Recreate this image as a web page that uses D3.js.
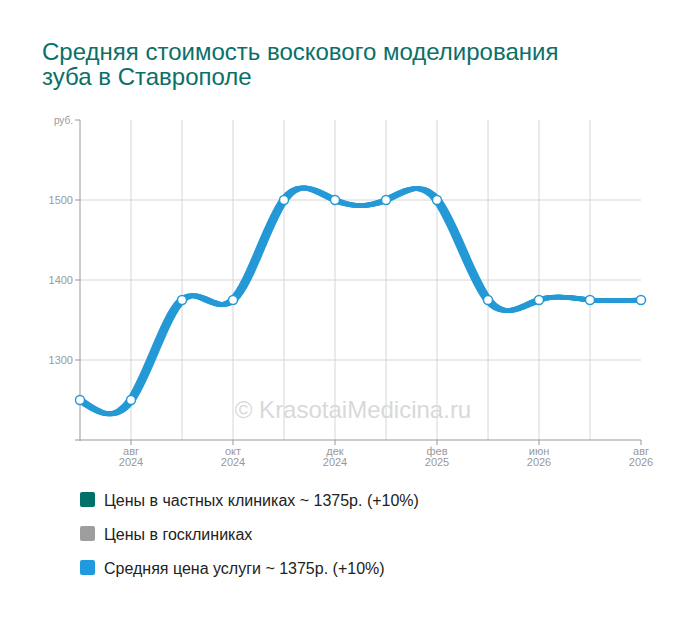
<!DOCTYPE html>
<html>
<head>
<meta charset="utf-8">
<script src="https://cdn.jsdelivr.net/npm/d3@7"></script>
<style>
  body { margin: 0; background: #fff; }
  svg { display: block; font-family: 'Liberation Sans', Arial, sans-serif; }
</style>
</head>
<body>
<svg width="700" height="617"></svg>
<script>
const months = ['июл 2024', 'авг 2024', 'сен 2024', 'окт 2024', 'ноя 2024', 'дек 2024',
  'янв 2025', 'фев 2025', 'май 2026', 'июн 2026', 'июл 2026', 'авг 2026'];
const avgPrice = [1250, 1250, 1375, 1375, 1500, 1500, 1500, 1500, 1375, 1375, 1375, 1375];
const yTicks = [1300, 1400, 1500];
const titleLines = ['Средняя стоимость воскового моделирования', 'зуба в Ставрополе'];
const legendItems = [
  { label: 'Цены в частных клиниках ~ 1375р. (+10%)', color: '#00706a' },
  { label: 'Цены в госклиниках', color: '#9e9e9e' },
  { label: 'Средняя цена услуги ~ 1375р. (+10%)', color: '#1f9ade' },
];

const svg = d3.select('svg');
const pLeft = 80, pRight = 641, pTop = 120, pBottom = 440;
const lineColor = '#2499d6';

svg.append('g').selectAll('text').data(titleLines).join('text')
  .attr('x', 42).attr('y', (d, i) => 60 + i * 25)
  .attr('fill', '#0a7068')
  .attr('font-size', '24px')
  .text(d => d);

const x = d3.scalePoint().domain(months).range([pLeft, pRight]);
const y = d3.scaleLinear().domain([1200, 1600]).range([pBottom, pTop]);

// grid
const grid = svg.append('g');
grid.selectAll('line.v').data(months.slice(1, -1)).join('line')
  .attr('class', 'v')
  .attr('x1', d => x(d)).attr('x2', d => x(d))
  .attr('y1', pTop).attr('y2', pBottom)
  .attr('stroke', '#d6d6d6');
grid.selectAll('line.h').data(yTicks).join('line')
  .attr('class', 'h')
  .attr('x1', pLeft).attr('x2', pRight)
  .attr('y1', d => y(d)).attr('y2', d => y(d))
  .attr('stroke', '#d6d6d6');

// watermark
svg.append('text')
  .attr('x', 353).attr('y', 418)
  .attr('text-anchor', 'middle')
  .attr('font-size', '24px')
  .attr('fill', '#d9d9d9')
  .text('© KrasotaiMedicina.ru');

// y axis
const yAxis = svg.append('g').attr('transform', `translate(${pLeft},0)`);
yAxis.append('line').attr('y1', pTop).attr('y2', pBottom + 1).attr('stroke', '#999');
const yTickG = yAxis.selectAll('g').data([...yTicks, 1600]).join('g')
  .attr('transform', d => `translate(0,${y(d)})`);
yTickG.append('line').attr('x1', -5).attr('x2', 0).attr('stroke', '#999');
yTickG.append('text')
  .attr('x', -7).attr('dy', '0.35em')
  .attr('text-anchor', 'end')
  .attr('font-size', d => d === 1600 ? '10px' : '11px')
  .attr('fill', '#999')
  .text(d => d === 1600 ? 'руб.' : d);

// x axis
const xAxis = svg.append('g').attr('transform', `translate(0,${pBottom})`);
xAxis.append('line').attr('x1', pLeft - 5).attr('x2', pRight).attr('stroke', '#999');
const xTickG = xAxis.selectAll('g').data(months.filter((d, i) => i % 2 === 1)).join('g')
  .attr('transform', d => `translate(${x(d)},0)`);
xTickG.append('line').attr('y2', 5).attr('stroke', '#999');
xTickG.append('text')
  .attr('text-anchor', 'middle')
  .attr('font-size', '11px')
  .attr('fill', '#999')
  .selectAll('tspan').data(d => d.split(' ')).join('tspan')
  .attr('x', 0).attr('y', (d, i) => 15 + i * 11)
  .text(d => d);

// line
const line = d3.line()
  .x((d, i) => x(months[i]))
  .y(d => y(d))
  .curve(d3.curveNatural);
const offsets = [-2.5, -1.5, -0.5, 0.5, 1.5, 2.5];
svg.append('g').selectAll('path').data(offsets).join('path')
  .attr('transform', d => `translate(${d},0)`)
  .attr('d', line(avgPrice))
  .attr('fill', 'none')
  .attr('stroke', lineColor)
  .attr('stroke-width', 4.5);

svg.append('g').selectAll('circle').data(avgPrice).join('circle')
  .attr('cx', (d, i) => x(months[i]))
  .attr('cy', d => y(d))
  .attr('r', 4.5)
  .attr('fill', '#fff')
  .attr('stroke', lineColor)
  .attr('stroke-width', 1.5);

// legend
const legend = svg.append('g').selectAll('g').data(legendItems).join('g')
  .attr('transform', (d, i) => `translate(80,${500 + i * 34})`);
legend.append('rect')
  .attr('x', 0).attr('y', -8).attr('width', 15).attr('height', 15)
  .attr('rx', 2)
  .attr('fill', d => d.color);
legend.append('text')
  .attr('x', 24).attr('dy', '0.35em')
  .attr('font-size', '16px')
  .attr('fill', '#222')
  .text(d => d.label);
</script>
</body>
</html>
